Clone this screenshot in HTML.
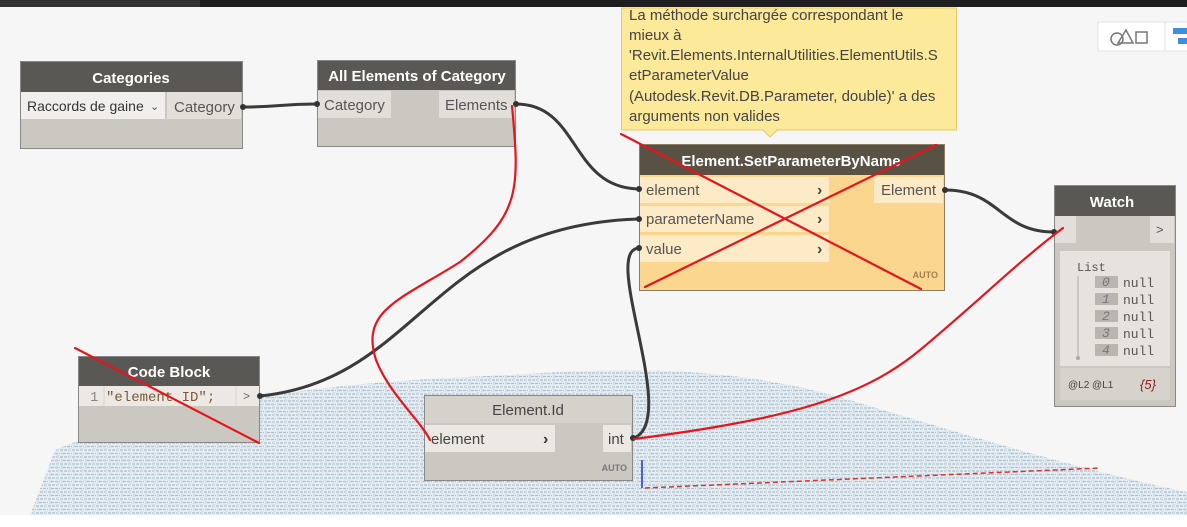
<!DOCTYPE html>
<html><head><meta charset="utf-8"><style>
body{margin:0;width:1187px;height:527px;overflow:hidden;background:#f6f6f6;font-family:"Liberation Sans",sans-serif}
svg{display:block}
text{font-family:"Liberation Sans",sans-serif}
text.m,.m text{font-family:"Liberation Mono",monospace}
</style></head><body>
<svg width="1187" height="527" viewBox="0 0 1187 527" xmlns="http://www.w3.org/2000/svg">
<defs>
<pattern id="g" width="12" height="7" patternUnits="userSpaceOnUse">
<rect width="12" height="7" fill="#e6eef3"/>
<path d="M0 2h9M3 5.5h9" stroke="#a9c0cf" stroke-width="1.2" stroke-dasharray="3 1"/>
<path d="M10 0v3.5M2 3.5v3.5" stroke="#bccdd8" stroke-width="1"/>
</pattern>
</defs>
<rect width="1187" height="527" fill="#f6f6f6"/>
<rect x="0" y="0" width="1187" height="7" fill="#1e1e1e"/>
<rect x="0" y="0" width="200" height="7" fill="#333"/>
<!-- grid -->
<path d="M30 515 L55 450 C150 410 300 385 450 378 L560 372 C700 365 780 380 850 400 C950 430 1080 470 1187 492 L1187 515 Z" fill="url(#g)"/>
<rect x="0" y="515" width="1187" height="12" fill="#ffffff"/>
<path d="M645 488 L1100 468" stroke="#e03030" stroke-width="1.5" stroke-dasharray="5 3"/>
<line x1="642" y1="460" x2="642" y2="488" stroke="#2030d0" stroke-width="1.5"/>
<!-- toolbar -->
<rect x="1098" y="22" width="95" height="29" fill="#fff" stroke="#e2e2e2"/>
<line x1="1165" y1="22" x2="1165" y2="51" stroke="#e2e2e2"/>
<circle cx="1117" cy="39" r="6" fill="none" stroke="#777" stroke-width="1.5"/>
<path d="M1118 43 L1126 30 L1133 43 Z" fill="none" stroke="#777" stroke-width="1.5"/>
<rect x="1136" y="32" width="11" height="11" fill="none" stroke="#777" stroke-width="1.5"/>
<rect x="1173" y="28" width="14" height="6" fill="#3c8fe0"/><rect x="1178" y="38" width="9" height="6" fill="#3c8fe0"/>
<!-- Categories -->
<rect x="20.5" y="61.5" width="222" height="87" fill="#cbc7c1" stroke="#888"/>
<rect x="21" y="62" width="221" height="30" fill="#5a5855"/>
<text x="131" y="83" text-anchor="middle" fill="#fff" font-size="15" font-weight="bold">Categories</text>
<rect x="21" y="92" width="144" height="27" fill="#f0efed"/>
<text x="27" y="111" fill="#333" font-size="14">Raccords de gaine</text>
<text x="150" y="110" fill="#555" font-size="11">⌄</text>
<rect x="167" y="92" width="74" height="27" fill="#e2dfdb"/>
<text x="174" y="112" fill="#555" font-size="15">Category</text>
<!-- All Elements -->
<rect x="317.5" y="60.5" width="198" height="86" fill="#cbc7c1" stroke="#888"/>
<rect x="318" y="61" width="197" height="29" fill="#5a5855"/>
<text x="417" y="81" text-anchor="middle" fill="#fff" font-size="15" font-weight="bold">All Elements of Category</text>
<rect x="318" y="91" width="73" height="27" fill="#e2dfdb"/>
<text x="324" y="110" fill="#555" font-size="15">Category</text>
<rect x="439" y="91" width="75" height="27" fill="#e2dfdb"/>
<text x="445" y="110" fill="#555" font-size="15">Elements</text>
<!-- Tooltip -->
<rect x="621.5" y="8" width="335" height="122" fill="#fce99a" stroke="#e6c86c"/>
<path d="M763 130 L770 137 L777 130 Z" fill="#fce99a" stroke="#e6c86c"/>
<rect x="764" y="128" width="12" height="3" fill="#fce99a"/>
<g fill="#444" font-size="15">
<text x="629" y="20">La méthode surchargée correspondant le</text>
<text x="629" y="40">mieux à</text>
<text x="629" y="60">'Revit.Elements.InternalUtilities.ElementUtils.S</text>
<text x="629" y="80">etParameterValue</text>
<text x="629" y="101">(Autodesk.Revit.DB.Parameter, double)' a des</text>
<text x="629" y="121">arguments non valides</text>
</g>
<!-- SetParameterByName -->
<rect x="639.5" y="144.5" width="305" height="146" fill="#fbd68e" stroke="#8c7d66"/>
<rect x="640" y="145" width="304" height="30" fill="#5a5145"/>
<text x="791" y="166" text-anchor="middle" fill="#fff" font-size="15" font-weight="bold">Element.SetParameterByName</text>
<rect x="640" y="177" width="189" height="26" fill="#fdeac6"/>
<rect x="640" y="206" width="189" height="26" fill="#fdeac6"/>
<rect x="640" y="235" width="189" height="27" fill="#fdeac6"/>
<g fill="#555" font-size="15">
<text x="646" y="195">element</text><text x="646" y="224">parameterName</text><text x="646" y="254">value</text>
</g>
<g fill="#444" font-size="16" font-weight="bold"><text x="817" y="195">›</text><text x="817" y="224">›</text><text x="817" y="254">›</text></g>
<rect x="874" y="177" width="69" height="26" fill="#fdeac6"/>
<text x="881" y="195" fill="#555" font-size="15">Element</text>
<text x="938" y="278" text-anchor="end" fill="#a08050" font-size="9" font-weight="bold">AUTO</text>
<!-- Watch -->
<rect x="1054.5" y="185.5" width="121" height="221" fill="#cbc7c1" stroke="#888"/>
<rect x="1055" y="186" width="120" height="30" fill="#5a5855"/>
<text x="1112" y="207" text-anchor="middle" fill="#fff" font-size="15" font-weight="bold">Watch</text>
<rect x="1055" y="216" width="21" height="27" fill="#e2dfdb"/>
<rect x="1150" y="216" width="24" height="27" fill="#e2dfdb"/>
<text x="1156" y="234" fill="#555" font-size="13">&gt;</text>
<rect x="1060" y="251" width="110" height="115" fill="#e6e3df"/>
<rect x="1060" y="368" width="110" height="32" fill="#d6d2cc"/>
<text x="1077" y="271" class="m" fill="#555" font-size="12">List</text>
<line x1="1078" y1="276" x2="1078" y2="357" stroke="#aaa"/>
<circle cx="1078" cy="358" r="2" fill="#aaa"/>
<g class="m" font-size="13">
<rect x="1095" y="276" width="23" height="12" fill="#b9b5af"/><text x="1102" y="286" fill="#777" font-style="italic">0</text><text x="1123" y="287" fill="#555">null</text>
<rect x="1095" y="293" width="23" height="12" fill="#b9b5af"/><text x="1102" y="303" fill="#777" font-style="italic">1</text><text x="1123" y="304" fill="#555">null</text>
<rect x="1095" y="310" width="23" height="12" fill="#b9b5af"/><text x="1102" y="320" fill="#777" font-style="italic">2</text><text x="1123" y="321" fill="#555">null</text>
<rect x="1095" y="327" width="23" height="12" fill="#b9b5af"/><text x="1102" y="337" fill="#777" font-style="italic">3</text><text x="1123" y="338" fill="#555">null</text>
<rect x="1095" y="344" width="23" height="12" fill="#b9b5af"/><text x="1102" y="354" fill="#777" font-style="italic">4</text><text x="1123" y="355" fill="#555">null</text>
</g>
<text x="1068" y="388" fill="#444" font-size="10">@L2 @L1</text>
<text x="1140" y="389" fill="#8b2020" font-size="13" font-style="italic">{5}</text>
<!-- Code Block -->
<rect x="78.5" y="356.5" width="181" height="86" fill="#cbc7c1" stroke="#888"/>
<rect x="79" y="357" width="180" height="29" fill="#5a5855"/>
<text x="169" y="377" text-anchor="middle" fill="#fff" font-size="15" font-weight="bold">Code Block</text>
<rect x="79" y="386" width="180" height="20" fill="#ece9e5"/>
<line x1="104" y1="386" x2="104" y2="406" stroke="#d8d5d0"/>
<line x1="236" y1="386" x2="236" y2="406" stroke="#d8d5d0"/>
<text x="90" y="401" class="m" fill="#888" font-size="14">1</text>
<text x="106" y="401" class="m" fill="#7a5a3a" font-size="14">"element ID";</text>
<text x="243" y="400" fill="#666" font-size="12">&gt;</text>
<!-- Element.Id -->
<rect x="424.5" y="395.5" width="208" height="85" fill="#cbc7c1" stroke="#888"/>
<rect x="425" y="396" width="207" height="27" fill="#d5d1cb"/>
<text x="528" y="415" text-anchor="middle" fill="#444" font-size="15">Element.Id</text>
<rect x="425" y="425" width="130" height="27" fill="#ece9e5"/>
<text x="431" y="444" fill="#444" font-size="15">element</text>
<text x="543" y="444" fill="#333" font-size="16" font-weight="bold">›</text>
<rect x="603" y="425" width="28" height="27" fill="#ece9e5"/>
<text x="608" y="444" fill="#444" font-size="15">int</text>
<text x="627" y="471" text-anchor="end" fill="#777" font-size="9" font-weight="bold">AUTO</text>
<!-- wires -->
<g fill="none" stroke="#3a3a3a" stroke-width="3" stroke-linecap="round">
<path d="M244 107 C280 107 280 104 316 104"/>
<path d="M516 104 C580 104 570 188 639 189"/>
<path d="M260 396 C420 380 430 225 639 219"/>
<path d="M634 438 C680 420 600 250 639 248"/>
<path d="M945 190 C1000 190 1000 232 1054 232"/>
</g>
<g fill="#333"><circle cx="243" cy="107" r="3"/><circle cx="317" cy="104" r="3"/><circle cx="516" cy="104" r="3"/><circle cx="639" cy="189" r="3"/><circle cx="639" cy="219" r="3"/><circle cx="639" cy="248" r="3"/><circle cx="945" cy="190" r="3"/><circle cx="1054" cy="232" r="3"/><circle cx="260" cy="396" r="3"/><circle cx="633" cy="438" r="3"/></g>
<!-- red annotations -->
<g fill="none" stroke="#e8141c" stroke-width="2.2" stroke-linecap="round">
<path d="M512 106 C520 190 520 215 460 262 C400 300 360 310 376 360 C390 395 420 420 430 440"/>
<line x1="621" y1="134" x2="921" y2="289"/>
<line x1="936" y1="145" x2="645" y2="287"/>
<path d="M634 439 C780 420 860 400 920 350 C980 300 1020 260 1063 228"/>
<line x1="75" y1="348" x2="259" y2="443"/>
</g>
</svg>
</body></html>
